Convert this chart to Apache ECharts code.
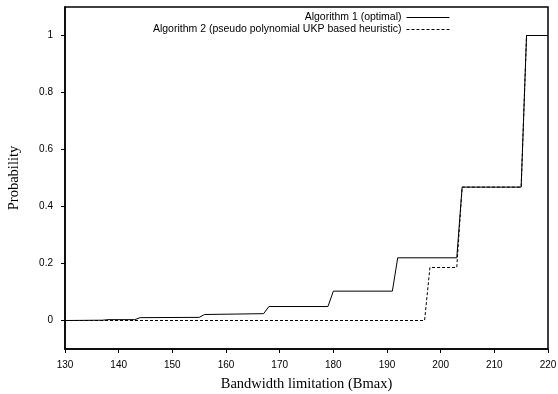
<!DOCTYPE html>
<html>
<head>
<meta charset="utf-8">
<script src="https://cdn.jsdelivr.net/npm/echarts@6/dist/echarts.min.js"></script>
<style>
  html, body { margin: 0; padding: 0; background: #fff; }
  #chart { width: 558px; height: 394px; }
</style>
</head>
<body>
<div id="chart"></div>
<script>
// Bandwidth limitation (x) and probability (y)
const bwAlg1 = [130, 137, 138, 143, 144, 155, 156, 167, 168, 179, 180, 191, 192, 203, 204, 215, 216, 220];
const probAlg1 = [0, 0.001, 0.003, 0.003, 0.010, 0.011, 0.021, 0.024, 0.049, 0.049, 0.103, 0.103, 0.22, 0.22, 0.468, 0.468, 1, 1];

const bwAlg2 = [130, 197, 198, 203, 204, 215, 216, 220];
const probAlg2 = [0, 0, 0.186, 0.186, 0.468, 0.468, 1, 1];

const yTicks = [0, 0.2, 0.4, 0.6, 0.8, 1];

const pairs = (xs, ys) => xs.map((x, i) => [x, ys[i]]);

const chart = echarts.init(document.getElementById('chart'));
const sans = 'Liberation Sans';
const serif = 'Liberation Serif';

chart.setOption({
  animation: false,
  grid: {
    left: 65, right: 10, top: 7, bottom: 45,
    outerBoundsMode: 'none',
    show: true, borderColor: '#000', borderWidth: 1.5,
  },
  legend: {
    orient: 'vertical',
    align: 'right',
    right: 103, top: 7,
    itemWidth: 43, itemHeight: 8, itemGap: 1,
    itemStyle: { opacity: 0 },
    lineStyle: { width: 1 },
    textStyle: { fontFamily: sans, fontSize: 10.5, color: '#000' },
    data: ['Algorithm 1 (optimal)', 'Algorithm 2 (pseudo polynomial UKP based heuristic)'],
  },
  xAxis: {
    type: 'value',
    min: 130, max: 220, interval: 10,
    name: 'Bandwidth limitation (Bmax)',
    nameLocation: 'middle', nameGap: 28,
    nameTextStyle: { fontFamily: serif, fontSize: 14.5, color: '#000' },
    axisLine: { show: true, onZero: false, lineStyle: { color: '#000', width: 1.5 } },
    axisTick: { show: true, length: 4, lineStyle: { color: '#000' } },
    axisLabel: { fontFamily: sans, fontSize: 10, color: '#000', margin: 11 },
    splitLine: { show: false },
  },
  yAxis: {
    type: 'value',
    min: -0.1, max: 1.1,
    name: 'Probability',
    nameLocation: 'middle', nameGap: 43,
    nameTextStyle: { fontFamily: serif, fontSize: 14.5, color: '#000' },
    axisLine: { show: true, onZero: false, lineStyle: { color: '#000', width: 1.5 } },
    axisTick: { show: true, length: 4, customValues: yTicks, lineStyle: { color: '#000' } },
    axisLabel: { fontFamily: sans, fontSize: 10, color: '#000', margin: 12, customValues: yTicks },
    splitLine: { show: false },
  },
  series: [
    {
      name: 'Algorithm 1 (optimal)',
      type: 'line',
      symbol: 'none',
      lineStyle: { color: '#000', width: 1 },
      itemStyle: { color: '#000' },
      data: pairs(bwAlg1, probAlg1),
    },
    {
      name: 'Algorithm 2 (pseudo polynomial UKP based heuristic)',
      type: 'line',
      symbol: 'none',
      lineStyle: { color: '#000', width: 1, type: [3, 2] },
      itemStyle: { color: '#000' },
      data: pairs(bwAlg2, probAlg2),
    },
  ],
});
</script>
</body>
</html>
